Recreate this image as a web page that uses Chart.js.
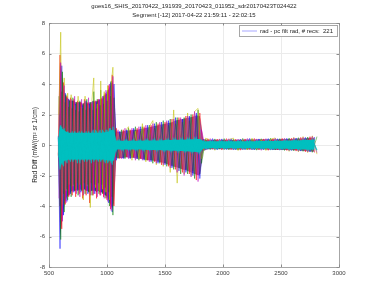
<!DOCTYPE html>
<html>
<head>
<meta charset="utf-8">
<script src="https://cdn.jsdelivr.net/npm/chart.js@4.4.1/dist/chart.umd.min.js"></script>
<style>
  html, body { margin: 0; padding: 0; background: #fff; }
  #wrap { width: 375px; height: 301px; }
</style>
</head>
<body>
<div id="wrap"><canvas id="chartRad" width="375" height="301"></canvas></div>
<script>
/* =============================================
   DATA
   ============================================= */
const titleLines = [
  'goes16_SHIS_20170422_191939_20170423_011952_sdr20170423T024422',
  'Segment [-12] 2017-04-22 21:59:11 - 22:02:15'
];
const yAxisTitle = 'Rad Diff (mW/(m\u00B2 sr 1/cm)';
const legendText = 'rad - pc filt rad, # recs:  221';
const xTicks = [500, 1000, 1500, 2000, 2500, 3000];
const yTicks = [-8, -6, -4, -2, 0, 2, 4, 6, 8];

// wavenumber grids (cm-1) for the two sets of traces
const gridA = [
  580, 595, 610, 625, 640, 655, 670, 685, 700, 715, 730, 745, 760, 775, 790, 805, 820,
  835, 850, 865, 880, 895, 910, 925, 940, 955, 970, 985, 1000, 1015, 1030, 1045, 1060,
  1080, 1110, 1140, 1170, 1200, 1230, 1260, 1290, 1320, 1350, 1380, 1410, 1440, 1470,
  1500, 1530, 1560, 1590, 1620, 1650, 1680, 1710, 1740, 1770, 1800,
  1830, 1870, 1910, 1950, 1990, 2030, 2070, 2110, 2150, 2190, 2230, 2270, 2310, 2350,
  2390, 2430, 2470, 2510, 2550, 2590, 2630, 2670, 2710, 2750, 2790
];
const gridB = [
  586, 601, 616, 631, 646, 661, 676, 691, 706, 721, 736, 751, 766, 781, 796, 811, 826,
  841, 856, 871, 886, 901, 916, 931, 946, 961, 976, 991, 1006, 1021, 1036, 1051, 1066,
  1095, 1125, 1155, 1185, 1215, 1245, 1275, 1305, 1335, 1365, 1395, 1425, 1455, 1485,
  1515, 1545, 1575, 1605, 1635, 1665, 1695, 1725, 1755, 1785, 1815,
  1850, 1890, 1930, 1970, 2010, 2050, 2090, 2130, 2170, 2210, 2250, 2290, 2330, 2370,
  2410, 2450, 2490, 2530, 2570, 2610, 2650, 2690, 2730, 2770, 2810
];

// dense body of all 221 records (gridA)
const bodyUpper = [
  0.8, 5.5, 4.8, 3.8, 3.3, 3.1, 3.0, 2.9, 2.9, 2.9, 2.8, 2.8, 2.8, 2.8, 2.7, 2.8, 2.8,
  2.7, 2.8, 2.8, 2.9, 2.8, 2.9, 2.9, 3.0, 3.0, 3.1, 3.3, 3.4, 3.7, 3.9, 4.2, 3.8,
  0.9, 0.85, 0.9, 0.95, 0.95, 1.0, 1.0, 1.05, 1.1, 1.15, 1.2, 1.25, 1.3, 1.35,
  1.4, 1.45, 1.5, 1.6, 1.65, 1.7, 1.75, 1.8, 1.85, 1.95, 1.9,
  0.4, 0.35, 0.35, 0.35, 0.35, 0.35, 0.35, 0.35, 0.35, 0.36, 0.36, 0.36, 0.37, 0.37,
  0.37, 0.38, 0.38, 0.39, 0.4, 0.4, 0.42, 0.43, 0.45, 0.47, 0.48
];
const bodyLower = [
  -0.8, -6.0, -5.2, -4.3, -3.7, -3.4, -3.3, -3.1, -3.0, -3.0, -3.0, -2.9, -3.0, -2.9, -3.0, -2.9, -3.0,
  -3.0, -3.1, -3.0, -3.0, -3.0, -3.1, -3.0, -3.1, -3.1, -3.2, -3.3, -3.4, -3.6, -3.9, -4.2, -3.8,
  -0.85, -0.85, -0.85, -0.8, -0.85, -0.85, -0.9, -0.9, -0.95, -1.0, -1.0, -1.05, -1.1, -1.15,
  -1.2, -1.3, -1.4, -1.45, -1.5, -1.6, -1.65, -1.75, -1.85, -1.95, -2.0,
  -0.4, -0.28, -0.28, -0.28, -0.28, -0.28, -0.29, -0.29, -0.29, -0.29, -0.3, -0.3, -0.3, -0.3,
  -0.31, -0.31, -0.32, -0.32, -0.33, -0.34, -0.35, -0.37, -0.39, -0.42, -0.44
];
// cyan core (gridA)
const cyanUpper = [
  0.5, 1.3, 1.1, 1.0, 0.9, 0.85, 0.8, 0.8, 0.8, 0.8, 0.8, 0.8, 0.8, 0.8, 0.8, 0.8, 0.8,
  0.8, 0.8, 0.8, 0.8, 0.8, 0.8, 0.8, 0.8, 0.8, 0.8, 0.85, 0.85, 0.9, 0.95, 1.0, 0.9,
  0.3, 0.28, 0.28, 0.28, 0.28, 0.28, 0.28, 0.28, 0.3, 0.3, 0.3, 0.3, 0.3, 0.3,
  0.32, 0.32, 0.33, 0.34, 0.35, 0.35, 0.36, 0.37, 0.38, 0.4, 0.4,
  0.25, 0.24, 0.24, 0.24, 0.24, 0.24, 0.24, 0.25, 0.25, 0.25, 0.25, 0.25, 0.26, 0.26,
  0.26, 0.27, 0.27, 0.28, 0.28, 0.29, 0.3, 0.31, 0.32, 0.33, 0.34
];
const cyanLower = [
  -0.5, -1.5, -1.2, -1.1, -1.0, -1.0, -0.95, -0.95, -0.95, -0.95, -0.95, -0.95, -0.95, -0.95, -0.95, -0.95, -0.95,
  -0.95, -0.95, -0.95, -0.95, -0.95, -0.95, -0.95, -0.95, -0.95, -0.95, -1.0, -1.0, -1.0, -1.05, -1.1, -1.0,
  -0.3, -0.3, -0.3, -0.3, -0.3, -0.3, -0.3, -0.3, -0.31, -0.32, -0.32, -0.33, -0.33, -0.34,
  -0.35, -0.36, -0.37, -0.38, -0.39, -0.4, -0.41, -0.42, -0.44, -0.46, -0.48,
  -0.25, -0.21, -0.21, -0.21, -0.21, -0.21, -0.21, -0.22, -0.22, -0.22, -0.22, -0.22, -0.23, -0.23,
  -0.23, -0.24, -0.24, -0.25, -0.25, -0.26, -0.27, -0.28, -0.29, -0.3, -0.31
];

// individual traces on gridA
const blueRad = [
  0.6, -6.8, 5.2, -4.6, 3.4, -3.7, 3.0, -3.2, 2.9, -3.1, 2.7, -3.0, 2.8, -3.1, 2.6, -2.9, 2.9,
  -3.2, 2.7, -3.0, 2.9, -3.2, 2.8, -3.0, 3.0, -3.1, 3.2, -3.3, 3.5, -3.8, 4.1, -4.4, 4.0,
  -1.0, 0.9, -0.9, 1.0, -0.9, 1.1, -0.9, 1.2, -1.0, 1.3, -1.1, 1.4, -1.2, 1.5,
  -1.3, 1.6, -1.5, 1.8, -1.7, 1.7, -1.8, 1.9, -2.0, 2.1, -2.2,
  0.38, -0.27, 0.42, -0.31, 0.4, -0.29, 0.41, -0.3, 0.39, -0.28, 0.43, -0.31, 0.4, -0.3,
  0.42, -0.32, 0.41, -0.3, 0.44, -0.35, 0.45, -0.4, 0.5, -0.45, 0.52
];
const redRad = [
  -0.7, 5.9, -5.5, 4.1, -3.9, 3.2, -3.4, 3.1, -3.3, 3.0, -3.4, 2.9, -3.2, 2.8, -3.5, 3.0, -3.3,
  2.8, -3.8, 2.7, -3.3, 2.9, -3.5, 3.0, -3.3, 3.1, -3.4, 3.4, -3.6, 3.9, -4.2, 4.6, -4.0,
  1.1, -0.9, 1.0, -0.8, 1.0, -0.8, 1.1, -0.9, 1.2, -1.0, 1.3, -1.1, 1.4, -1.3,
  1.5, -1.4, 1.7, -1.6, 1.8, -1.8, 1.9, -1.9, 2.0, -2.3, 2.1,
  -0.32, 0.41, -0.28, 0.39, -0.33, 0.42, -0.3, 0.38, -0.34, 0.4, -0.29, 0.43, -0.32, 0.4,
  -0.35, 0.41, -0.31, 0.44, -0.36, 0.45, -0.4, 0.5, -0.45, 0.55, -0.5
];
const greyRad = [
  -0.5, -4.0, 3.5, -3.2, 2.8, -2.9, 2.5, -2.7, 2.4, -2.6, 2.3, -2.5, 2.2, -2.6, 2.4, -2.5, 2.3,
  -2.6, 2.4, -2.5, 2.3, -2.6, 2.4, -2.5, 2.6, -2.6, 2.7, -2.8, 2.9, -3.1, 3.2, -3.4, 3.1,
  -0.8, 0.7, -0.8, 0.8, -0.7, 0.9, -0.8, 0.9, -0.9, 1.0, -1.0, 1.1, -1.0, 1.2,
  -1.2, 1.3, -1.3, 1.4, -1.5, 1.5, -1.6, 1.6, -1.7, 1.8, -1.9,
  0.3, -0.25, 0.3, -0.25, 0.31, -0.26, 0.3, -0.27, 0.32, -0.25, 0.3, -0.28, 0.31, -0.27,
  0.33, -0.28, 0.32, -0.3, 0.34, -0.32, 0.36, -0.35, 0.4, -0.38, 0.42
];
const cyanRadA = [
  0.5, -1.6, 1.2, -1.4, 0.9, -1.2, 0.8, -1.1, 0.9, -1.0, 0.8, -1.2, 0.9, -1.0, 0.8, -1.1, 0.9,
  -1.0, 0.8, -1.2, 1.0, -1.0, 0.9, -1.1, 1.0, -1.0, 0.9, -1.2, 1.0, -1.1, 1.1, -1.3, 1.0,
  -0.35, 0.3, -0.35, 0.32, -0.3, 0.35, -0.33, 0.3, -0.36, 0.34, -0.3, 0.38, -0.35, 0.33,
  -0.38, 0.36, -0.4, 0.38, -0.42, 0.4, -0.4, 0.42, -0.45, 0.45, -0.5,
  0.28, -0.24, 0.27, -0.25, 0.28, -0.24, 0.27, -0.26, 0.28, -0.25, 0.29, -0.26, 0.28, -0.25,
  0.3, -0.27, 0.29, -0.28, 0.3, -0.3, 0.32, -0.31, 0.34, -0.35, 0.36
];

// individual traces on gridB
const greenRad = [
  3.2, -6.2, 4.8, -4.4, 3.3, -3.6, 2.9, -3.4, 3.1, -3.0, 2.8, -3.3, 2.9, -3.0, 2.7, -3.2, 3.0,
  -3.1, 2.8, -3.3, 3.5, -3.0, 3.0, -3.2, 3.6, -3.2, 3.3, -3.5, 3.6, -4.0, 4.2, -4.6, 1.0,
  -0.9, 1.0, -0.9, 1.1, -0.8, 1.2, -1.0, 1.2, -1.0, 1.3, -1.2, 1.5, -1.2, 1.6,
  -1.4, 1.7, -1.6, 1.8, -1.9, 1.8, -1.9, 2.0, -2.2, 2.3, -1.2,
  0.36, -0.3, 0.4, -0.27, 0.42, -0.31, 0.37, -0.33, 0.43, -0.29, 0.4, -0.34, 0.41, -0.3,
  0.44, -0.33, 0.42, -0.36, 0.46, -0.38, 0.48, -0.42, 0.52, -0.48, 0.55
];
const magentaRad = [
  -3.5, 5.4, -5.0, 3.9, -3.8, 3.1, -3.3, 3.0, -3.1, 3.2, -3.2, 2.8, -3.4, 3.0, -3.3, 2.9, -3.0,
  3.1, -3.3, 2.8, -3.2, 2.9, -3.4, 3.0, -3.3, 3.2, -3.5, 3.6, -3.7, 4.0, -4.3, 4.5, -1.0,
  1.0, -0.9, 1.1, -0.9, 1.1, -1.0, 1.2, -1.0, 1.3, -1.1, 1.4, -1.2, 1.5, -1.3,
  1.6, -1.5, 1.7, -1.8, 1.8, -2.0, 1.9, -2.1, 2.2, -2.4, 1.0,
  -0.31, 0.42, -0.3, 0.4, -0.28, 0.41, -0.33, 0.39, -0.3, 0.43, -0.32, 0.4, -0.35, 0.42,
  -0.31, 0.44, -0.34, 0.45, -0.37, 0.47, -0.41, 0.5, -0.46, 0.56, -0.5
];
const oliveRad = [
  2.0, 7.4, -3.9, 4.4, -3.0, 3.4, -2.6, 3.3, -2.7, 2.6, -2.9, 3.2, -2.6, 2.5, -3.6, 3.2, -2.7,
  2.6, -4.1, 3.0, 4.4, -2.8, 2.7, -3.0, 4.2, -2.9, 3.5, -3.1, 3.9, -3.6, 4.0, 5.1, -0.8,
  0.8, -0.8, 0.9, 1.2, -1.0, 0.9, -0.9, 1.4, -1.1, 1.2, 1.6, -1.3, 1.4, -1.4,
  1.5, -1.8, 2.3, -2.5, 1.7, -1.9, 2.1, -2.0, 2.2, 2.4, -0.9,
  0.45, 0.3, -0.35, 0.38, -0.3, 0.35, 0.45, -0.36, 0.3, -0.32, 0.44, -0.28, 0.36, -0.36,
  0.38, 0.46, -0.32, 0.4, -0.42, 0.5, -0.45, 0.55, -0.5, 0.6, -0.6
];
const cyanRadB = [
  -0.8, 1.3, -1.3, 1.1, -1.1, 0.9, -1.0, 0.8, -1.1, 0.9, -1.0, 0.8, -1.2, 0.9, -1.0, 0.8, -1.1,
  0.9, -1.0, 0.9, -1.1, 1.0, -1.0, 0.9, -1.1, 1.0, -1.1, 1.0, -1.2, 1.1, -1.2, 1.2, -0.4,
  0.32, -0.3, 0.34, -0.32, 0.3, -0.35, 0.33, -0.31, 0.36, -0.34, 0.35, -0.37, 0.36, -0.38,
  0.37, -0.4, 0.4, -0.42, 0.41, -0.44, 0.43, -0.46, 0.46, -0.5, 0.3,
  -0.25, 0.28, -0.24, 0.27, -0.26, 0.28, -0.25, 0.29, -0.26, 0.28, -0.27, 0.29, -0.26, 0.3,
  -0.28, 0.3, -0.28, 0.31, -0.3, 0.32, -0.31, 0.34, -0.33, 0.36, -0.35
];

/* =============================================
   HELPERS
   ============================================= */
const FONT = '"Liberation Sans", Arial, Helvetica, sans-serif';

function pairUp(grid, vals) {
  return grid.map((x, i) => ({ x: x, y: vals[i] }));
}

function trace(grid, vals, color, width) {
  return {
    data: pairUp(grid, vals),
    borderColor: color,
    borderWidth: width || 0.9,
    pointRadius: 0,
    tension: 0,
    fill: false
  };
}

// upper edge of a filled band (fills down to the next dataset)
function bandTop(grid, vals, color) {
  return {
    data: pairUp(grid, vals),
    borderWidth: 0,
    borderColor: 'rgba(0,0,0,0)',
    backgroundColor: color,
    pointRadius: 0,
    tension: 0,
    fill: '+1'
  };
}

function bandBottom(grid, vals) {
  return {
    data: pairUp(grid, vals),
    borderWidth: 0,
    borderColor: 'rgba(0,0,0,0)',
    pointRadius: 0,
    tension: 0,
    fill: false
  };
}

/* =============================================
   TITLE, BOX, INWARD TICKS AND LEGEND (matlab style)
   ============================================= */
const boxPlugin = {
  id: 'matlabBox',
  afterDraw(chart) {
    const { ctx, chartArea: a, scales } = chart;
    ctx.save();

    // two-line title centred over the axes
    ctx.fillStyle = '#262626';
    ctx.font = '6px ' + FONT;
    ctx.textAlign = 'center';
    ctx.textBaseline = 'middle';
    const cx = (a.left + a.right) / 2;
    ctx.fillText(titleLines[0], cx, 6.5);
    ctx.fillText(titleLines[1], cx, 15.5);
    ctx.textAlign = 'left';

    ctx.strokeStyle = '#a6a6a6';
    ctx.lineWidth = 1;
    ctx.strokeRect(Math.round(a.left) + 0.5, Math.round(a.top) + 0.5,
      Math.round(a.right - a.left), Math.round(a.bottom - a.top));

    // inward tick marks on all four sides
    ctx.strokeStyle = '#8c8c8c';
    ctx.beginPath();
    xTicks.forEach(v => {
      const px = Math.round(scales.x.getPixelForValue(v)) + 0.5;
      ctx.moveTo(px, a.bottom); ctx.lineTo(px, a.bottom - 2.5);
      ctx.moveTo(px, a.top); ctx.lineTo(px, a.top + 2.5);
    });
    yTicks.forEach(v => {
      const py = Math.round(scales.y.getPixelForValue(v)) + 0.5;
      ctx.moveTo(a.left, py); ctx.lineTo(a.left + 2.5, py);
      ctx.moveTo(a.right, py); ctx.lineTo(a.right - 2.5, py);
    });
    ctx.stroke();

    // legend box in the upper right corner
    ctx.font = '6px ' + FONT;
    const tw = ctx.measureText(legendText).width;
    const w = Math.round(tw + 25), h = 11;
    const x0 = Math.round(a.right) - 2 - w, y0 = Math.round(a.top) + 2;
    ctx.fillStyle = '#ffffff';
    ctx.fillRect(x0, y0, w, h);
    ctx.strokeStyle = '#a6a6a6';
    ctx.strokeRect(x0 + 0.5, y0 + 0.5, w, h);
    ctx.strokeStyle = 'rgba(0,0,255,0.35)';
    ctx.beginPath();
    ctx.moveTo(x0 + 3, y0 + h / 2 + 0.5);
    ctx.lineTo(x0 + 18, y0 + h / 2 + 0.5);
    ctx.stroke();
    ctx.fillStyle = '#262626';
    ctx.textBaseline = 'middle';
    ctx.fillText(legendText, x0 + 21, y0 + h / 2 + 1);
    ctx.restore();
  }
};

/* =============================================
   CHART
   ============================================= */
const ctx = document.getElementById('chartRad').getContext('2d');

// listed bottom-most first; 'order' makes Chart.js paint them in this sequence
const datasets = [
  bandTop(gridA, bodyUpper, 'rgba(120,45,140,0.75)'),
  bandBottom(gridA, bodyLower),
  trace(gridA, blueRad, 'rgba(0,0,255,0.55)'),
  trace(gridB, greenRad, 'rgba(0,128,0,0.55)'),
  trace(gridA, redRad, 'rgba(255,0,0,0.55)'),
  trace(gridB, oliveRad, 'rgba(191,191,0,0.6)'),
  trace(gridB, magentaRad, 'rgba(191,0,191,0.55)'),
  trace(gridA, greyRad, 'rgba(64,64,64,0.45)'),
  bandTop(gridA, cyanUpper, 'rgb(0,191,191)'),
  bandBottom(gridA, cyanLower),
  trace(gridA, cyanRadA, 'rgba(0,191,191,0.85)', 1.1),
  trace(gridB, cyanRadB, 'rgba(0,191,191,0.85)', 1.1)
];
datasets.forEach((d, i) => { d.order = datasets.length - i; });

new Chart(ctx, {
  type: 'line',
  data: { datasets: datasets },
  options: {
    responsive: false,
    animation: false,
    events: [],
    layout: { padding: { left: 0, right: 36, top: 23, bottom: 20 } },
    plugins: {
      legend: { display: false },
      tooltip: { enabled: false },
      title: { display: false }
    },
    scales: {
      x: {
        type: 'linear',
        min: 500,
        max: 3000,
        afterFit: (s) => { s.height = 14; },
        afterBuildTicks: (s) => { s.ticks = xTicks.map(v => ({ value: v })); },
        ticks: {
          color: '#404040',
          font: { family: FONT, size: 6 },
          padding: 3,
          maxRotation: 0,
          callback: (v) => String(v)
        },
        grid: { color: '#ebebeb', drawTicks: false },
        border: { display: false }
      },
      y: {
        type: 'linear',
        min: -8,
        max: 8,
        afterFit: (s) => { s.width = 49; },
        afterBuildTicks: (s) => { s.ticks = yTicks.map(v => ({ value: v })); },
        ticks: {
          color: '#404040',
          font: { family: FONT, size: 6 },
          padding: 4,
          callback: (v) => String(v)
        },
        grid: { color: '#ebebeb', drawTicks: false },
        border: { display: false },
        title: {
          display: true,
          text: yAxisTitle,
          color: '#262626',
          font: { family: FONT, size: 6.5 },
          padding: { top: 31, bottom: 0 }
        }
      }
    }
  },
  plugins: [boxPlugin]
});
</script>
</body>
</html>
